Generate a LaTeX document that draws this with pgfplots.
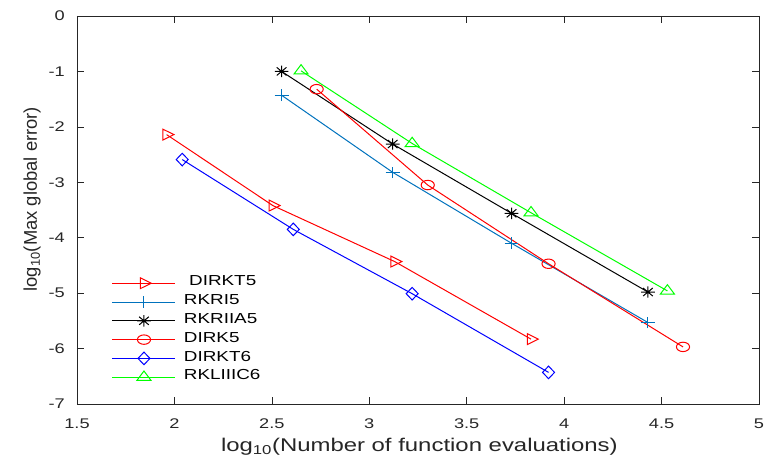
\documentclass[border=0pt]{standalone}
\usepackage{fontspec}
\setmainfont{Liberation Sans}[FakeStretch=1.3]
\newfontfamily\ylabfont{Liberation Sans}
\usepackage{pgfplots}
\pgfplotsset{compat=1.18}
\definecolor{mblue}{rgb}{0,0.447,0.741}
\definecolor{axgray}{rgb}{0.15,0.15,0.15}
\newcommand{\ms}{\pgfplotmarksize}
\pgfdeclareplotmark{mstar}{%
  \pgfpathmoveto{\pgfqpoint{-1.2\ms}{0pt}}\pgfpathlineto{\pgfqpoint{1.2\ms}{0pt}}%
  \pgfpathmoveto{\pgfqpoint{0pt}{-\ms}}\pgfpathlineto{\pgfqpoint{0pt}{\ms}}%
  \pgfpathmoveto{\pgfqpoint{-0.85\ms}{-0.707\ms}}\pgfpathlineto{\pgfqpoint{0.85\ms}{0.707\ms}}%
  \pgfpathmoveto{\pgfqpoint{-0.85\ms}{0.707\ms}}\pgfpathlineto{\pgfqpoint{0.85\ms}{-0.707\ms}}%
  \pgfusepathqstroke}
\pgfdeclareplotmark{mplus}{%
  \pgfpathmoveto{\pgfqpoint{-1.2\ms}{0pt}}\pgfpathlineto{\pgfqpoint{1.2\ms}{0pt}}%
  \pgfpathmoveto{\pgfqpoint{0pt}{-\ms}}\pgfpathlineto{\pgfqpoint{0pt}{\ms}}%
  \pgfusepathqstroke}
\pgfdeclareplotmark{mcirc}{%
  \pgfpathellipse{\pgfpointorigin}{\pgfqpoint{1.4\ms}{0pt}}{\pgfqpoint{0pt}{\ms}}%
  \pgfusepathqstroke}
\pgfdeclareplotmark{mdiam}{%
  \pgfpathmoveto{\pgfqpoint{0pt}{\ms}}\pgfpathlineto{\pgfqpoint{0.95\ms}{0pt}}%
  \pgfpathlineto{\pgfqpoint{0pt}{-\ms}}\pgfpathlineto{\pgfqpoint{-0.95\ms}{0pt}}\pgfpathclose
  \pgfusepathqstroke}
\pgfdeclareplotmark{mtriup}{%
  \pgfpathmoveto{\pgfqpoint{0pt}{1.2\ms}}\pgfpathlineto{\pgfqpoint{1.35\ms}{-0.6\ms}}%
  \pgfpathlineto{\pgfqpoint{-1.35\ms}{-0.6\ms}}\pgfpathclose
  \pgfusepathqstroke}
\pgfdeclareplotmark{mtriright}{%
  \pgfpathmoveto{\pgfqpoint{1.4\ms}{0pt}}\pgfpathlineto{\pgfqpoint{-0.7\ms}{1.04\ms}}%
  \pgfpathlineto{\pgfqpoint{-0.7\ms}{-1.04\ms}}\pgfpathclose
  \pgfusepathqstroke}
\begin{document}
\begin{tikzpicture}
\begin{axis}[
  scale only axis, width=682bp, height=388bp,
  xmin=1.5, xmax=5, ymin=-7, ymax=0,
  xtick={1.5,2,2.5,3,3.5,4,4.5,5}, ytick={-7,-6,-5,-4,-3,-2,-1,0},
  /pgf/number format/assume math mode=true,
  tick align=inside, major tick length=7bp,
  axis line style={color=axgray, line width=0.7bp},
  every tick/.style={color=axgray, line width=0.7bp},
  tick label style={font=\fontsize{14bp}{16bp}\selectfont, color=axgray, inner sep=0pt},
  xticklabel style={anchor=north, yshift=-15bp},
  yticklabel style={anchor=east, xshift=-12bp},
  xlabel={log\textsubscript{10}(Number of function evaluations)},
  ylabel={\ylabfont log\textsubscript{10}(Max global error)},
  xlabel style={font=\fontsize{18.4bp}{22bp}\selectfont, color=axgray, at={(rel axis cs:0.502,0)}, anchor=center, yshift=-43bp},
  ylabel style={font=\fontsize{18.4bp}{22bp}\selectfont, color=axgray, at={(rel axis cs:0,0.528)}, anchor=center, yshift=45bp},
  legend cell align=left,
  legend style={at={(rel axis cs:0.051,0.336)}, anchor=north west, draw=none, fill=none,
    font=\fontsize{14.5bp}{16bp}\selectfont, inner sep=0pt,
    nodes={inner sep=0pt, text height=12bp, text depth=6.8bp},
    /tikz/every odd column/.append style={column sep=8bp}},
  legend image code/.code={\draw[mark repeat=2,mark phase=2,line width=1bp,#1] plot coordinates {(0bp,0bp) (31.5bp,0bp) (63bp,0bp)};},
  every axis plot/.append style={line width=1bp},
]
\addplot[red, mark=mtriright, mark size=5.2bp]
  coordinates {(1.96,-2.14) (2.505,-3.42) (3.13,-4.43) (3.83,-5.83)};
\addlegendentry{\ DIRKT5}
\addplot[mblue, mark=mplus, mark size=5.8bp]
  coordinates {(2.55,-1.43) (3.12,-2.82) (3.73,-4.10) (4.43,-5.53)};
\addlegendentry{RKRI5}
\addplot[black, mark=mstar, mark size=5.7bp]
  coordinates {(2.55,-1.00) (3.12,-2.31) (3.73,-3.56) (4.43,-4.98)};
\addlegendentry{RKRIIA5}
\addplot[red, mark=mcirc, mark size=4.7bp]
  coordinates {(2.73,-1.32) (3.30,-3.05) (3.92,-4.47) (4.61,-5.97)};
\addlegendentry{DIRK5}
\addplot[blue, mark=mdiam, mark size=6.3bp]
  coordinates {(2.04,-2.59) (2.61,-3.85) (3.22,-5.01) (3.92,-6.43)};
\addlegendentry{DIRKT6}
\addplot[green, mark=mtriup, mark size=5.2bp]
  coordinates {(2.65,-0.99) (3.22,-2.30) (3.83,-3.55) (4.53,-4.96)};
\addlegendentry{RKLIIIC6}
\end{axis}
\pgfresetboundingbox
\path ([shift={(-77bp,-56bp)}]current axis.south west) rectangle ([shift={(6bp,16bp)}]current axis.north east);
\end{tikzpicture}
\end{document}
